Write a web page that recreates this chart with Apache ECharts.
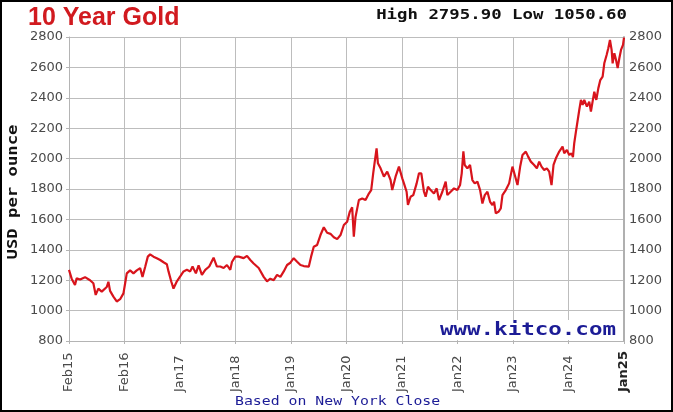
<!DOCTYPE html>
<html>
<head>
<meta charset="utf-8">
<script src="https://cdn.jsdelivr.net/npm/echarts@6/dist/echarts.min.js"></script>
<style>
html,body{margin:0;padding:0;background:#fff;}
#c{width:673px;height:412px;}
</style>
</head>
<body>
<div id="c"></div>
<script>
// Category tick labels along the x axis (evenly spaced periods)
const xLabels = ['Feb15','Feb16','Jan17','Jan18','Jan19','Jan20','Jan21','Jan22','Jan23','Jan24','Jan25'];
// Y axis range / step
const yMin = 800, yMax = 2800, yStep = 200;
// Position of each point along the x axis, in periods from Feb15
const xPos = [
0.000,0.012,0.048,0.108,0.138,0.199,0.289,0.379,0.439,0.481,0.529,0.590,0.680,0.710,0.740,0.800,0.860,0.921,0.981,
1.011,1.041,1.101,1.161,1.221,1.282,1.324,1.372,1.420,1.462,1.522,1.582,1.643,1.703,1.763,1.793,1.841,1.883,1.944,
2.004,2.064,2.124,2.184,2.226,2.286,2.335,2.395,2.455,2.527,2.605,2.665,2.726,2.786,2.846,2.906,2.936,2.996,
3.057,3.147,3.207,3.267,3.327,3.418,3.508,3.568,3.628,3.688,3.749,3.809,3.869,3.929,3.989,
4.049,4.110,4.170,4.230,4.320,4.362,4.410,4.471,4.531,4.591,4.651,4.711,4.771,4.832,4.892,4.952,
5.012,5.060,5.102,5.132,5.162,5.223,5.283,5.343,5.403,5.445,5.481,5.505,5.542,5.566,5.614,5.674,5.734,5.794,5.824,5.884,5.945,
6.005,6.035,6.083,6.107,6.155,6.203,6.264,6.306,6.348,6.396,6.426,6.468,6.516,6.576,6.625,6.667,6.727,6.787,6.817,6.877,6.937,6.998,
7.046,7.076,7.106,7.130,7.178,7.226,7.268,7.310,7.359,7.407,7.449,7.491,7.539,7.587,7.629,7.659,7.690,7.738,7.780,7.810,7.870,7.930,7.990,
8.032,8.081,8.129,8.171,8.231,8.273,8.321,8.381,8.430,8.472,8.514,8.562,8.610,8.652,8.694,8.730,8.773,8.833,8.893,8.923,8.971,
9.013,9.055,9.080,9.103,9.134,9.164,9.194,9.224,9.254,9.284,9.332,9.374,9.404,9.434,9.465,9.501,9.537,9.573,9.615,9.645,9.687,9.717,9.747,9.777,9.795,9.826,9.856,9.886,9.916,9.946,9.982,10.000
];
// Gold price (USD per ounce) at each position
const prices = [
1268,1278,1210,1168,1212,1205,1220,1200,1180,1103,1145,1125,1155,1190,1130,1092,1060,1075,1113,
1178,1245,1265,1245,1265,1280,1222,1287,1355,1370,1355,1345,1333,1318,1305,1258,1193,1145,1193,
1225,1258,1268,1258,1290,1245,1297,1235,1268,1290,1348,1290,1290,1280,1300,1268,1320,1355,
1355,1345,1360,1333,1310,1280,1222,1193,1210,1200,1235,1222,1258,1300,1315,
1345,1322,1300,1293,1289,1355,1420,1432,1497,1548,1512,1505,1483,1470,1497,1563,
1585,1651,1680,1486,1615,1727,1738,1727,1770,1793,1903,1969,2067,1969,1936,1881,1914,1859,1793,1881,1947,
1870,1837,1782,1695,1749,1760,1837,1903,1903,1782,1749,1815,1793,1771,1804,1727,1782,1848,1760,1782,1804,1793,
1826,1903,2047,1958,1936,1958,1859,1837,1848,1793,1705,1760,1782,1716,1694,1716,1640,1650,1672,1760,1793,1837,1947,
1892,1826,1947,2024,2046,2013,1980,1958,1936,1980,1947,1925,1936,1914,1826,1958,2002,2046,2079,2035,2057,
2024,2035,2010,2100,2177,2188,2320,2386,2353,2386,2342,2375,2310,2375,2440,2386,2462,2517,2540,2627,2682,2726,2780,2715,2627,2693,2650,2595,2660,2715,2748,2796
];
const titleText = '10 Year Gold';
const headerText = 'High 2795.90 Low 1050.60';
const yName = 'USD per ounce';
const siteText = 'www.kitco.com';
const footText = 'Based on New York Close';

const series = xPos.map((x, i) => [x, prices[i]]);

const chart = echarts.init(document.getElementById('c'), null, {renderer: 'canvas'});
const lblFont = 'DejaVu Sans';
const monoFont = 'DejaVu Sans Mono';
chart.setOption({
  animation: false,
  backgroundColor: '#ffffff',
  grid: {left: 69, right: 49, top: 37, bottom: 71, containLabel: false},
  xAxis: {
    type: 'value', min: 0, max: xLabels.length - 1, interval: 1,
    axisLine: {show: true, lineStyle: {color: '#b4b4b4', width: 1}},
    axisTick: {show: true, length: 3, lineStyle: {color: '#b4b4b4'}},
    splitLine: {show: true, lineStyle: {color: '#bdbdbd', width: 1}},
    axisLabel: {
      rotate: 90, align: 'left', margin: 51, fontFamily: lblFont, fontSize: 13, color: '#4a4a4a',
      showMinLabel: true, showMaxLabel: true, hideOverlap: false,
      formatter: v => { const i = Math.round(v); const s = xLabels[i] || ''; return i === xLabels.length - 1 ? '{b|' + s + '}' : s; },
      rich: {b: {fontFamily: lblFont, fontSize: 13, fontWeight: 'bold', color: '#222'}}
    }
  },
  yAxis: [{
    type: 'value', min: yMin, max: yMax, interval: yStep, position: 'left',
    axisLine: {show: true, lineStyle: {color: '#b4b4b4', width: 1}},
    axisTick: {show: true, length: 3, lineStyle: {color: '#b4b4b4'}},
    splitLine: {show: true, lineStyle: {color: '#bdbdbd', width: 1}},
    axisLabel: {margin: 6, fontFamily: lblFont, fontSize: 13, color: '#4a4a4a', formatter: v => String(v)}
  }, {
    type: 'value', min: yMin, max: yMax, interval: yStep, position: 'right',
    axisLine: {show: true, lineStyle: {color: '#b0b0b0', width: 2}},
    axisTick: {show: false},
    splitLine: {show: false},
    axisLabel: {margin: 5, fontFamily: lblFont, fontSize: 13, color: '#4a4a4a', formatter: v => String(v)}
  }],
  series: [{
    type: 'line', data: series, yAxisIndex: 0, showSymbol: false, symbol: 'none',
    lineStyle: {color: '#d8141c', width: 2.2}, z: 3
  }],
  graphic: [
    {type: 'rect', shape: {x: 1, y: 1, width: 671, height: 410}, style: {fill: 'none', stroke: '#000', lineWidth: 2}, z: 100},
    {type: 'text', x: 28, y: 18, style: {text: titleText, x: 0, y: 0, textAlign: 'left', textVerticalAlign: 'middle', fontFamily: 'Liberation Sans', fontWeight: 'bold', fontSize: 25, fill: '#d11a1f'}, z: 50},
    {type: 'text', x: 627, y: 15, scaleX: 1.24, style: {text: headerText, x: 0, y: 0, textAlign: 'right', textVerticalAlign: 'middle', fontFamily: monoFont, fontWeight: 'bold', fontSize: 14, fill: '#111'}, z: 50},
    {type: 'text', x: 13, y: 192, rotation: Math.PI / 2, scaleX: 1.23, style: {text: yName, x: 0, y: 0, textAlign: 'center', textVerticalAlign: 'middle', fontFamily: monoFont, fontWeight: 'bold', fontSize: 14, fill: '#111'}, z: 50},
    {type: 'rect', shape: {x: 436, y: 320, width: 184, height: 20}, style: {fill: '#ffffff'}, z: 40},
    {type: 'text', x: 616, y: 330, scaleX: 1.25, style: {text: siteText, x: 0, y: 0, textAlign: 'right', textVerticalAlign: 'middle', fontFamily: monoFont, fontWeight: 'bold', fontSize: 18, fill: '#1c1c96'}, z: 50},
    {type: 'text', x: 235, y: 402, scaleX: 1.14, style: {text: footText, x: 0, y: 0, textAlign: 'left', textVerticalAlign: 'middle', fontFamily: monoFont, fontSize: 13, fill: '#1c1c96'}, z: 50}
  ]
});
</script>
</body>
</html>
